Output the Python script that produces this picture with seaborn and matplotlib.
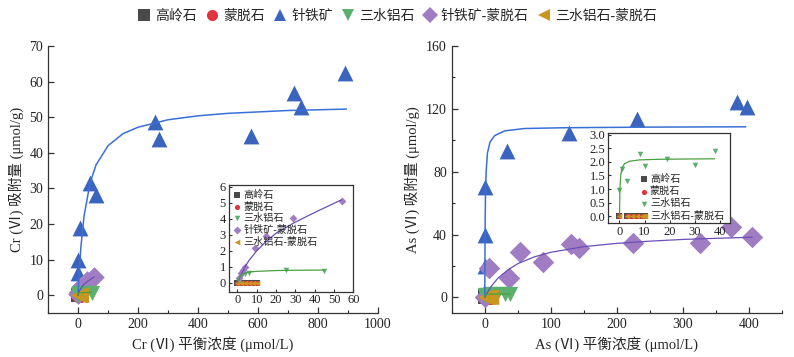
import numpy as np
import pandas as pd
import matplotlib
matplotlib.use('Agg')
from matplotlib import pyplot as plt
from matplotlib.lines import Line2D
from matplotlib.ticker import MultipleLocator, FormatStrFormatter
import seaborn as sns

# ---- data ----
names = ['高岭石', '蒙脱石', '针铁矿', '三水铝石', '针铁矿-蒙脱石', '三水铝石-蒙脱石']

# Cr(VI) isotherms
cr_zero_x = [0, 2, 4, 6, 8, 10]
cr_zero_y = [0, 0, 0, 0, 0, 0]
cr_goe_x = [0, 0, 5, 41, 61, 258, 270, 578, 719, 742, 890]
cr_goe_y = [6.2, 9.9, 19, 31.4, 28.2, 48.6, 43.8, 44.8, 56.8, 52.8, 62.4]
cr_gib_x = [1, 2, 4, 6, 25, 45]
cr_gib_y = [0.05, 0.35, 0.55, 0.6, 0.78, 0.75]
cr_gm_x = [1, 2, 3, 4, 9, 15, 29, 54]
cr_gm_y = [0.3, 0.6, 0.8, 1.0, 2.2, 2.9, 4.05, 5.1]

# Cr(VI) fitted curves
cr_goe_fit_x = [0, 2, 5, 10, 20, 40, 60, 100, 150, 200, 300, 400, 500, 600, 700, 800, 895]
cr_goe_fit_y = [0, 3.5, 8, 14, 22.2, 31.5, 36.6, 42, 45.4, 47.2, 49.3, 50.4, 51.1, 51.5, 51.9, 52.1, 52.3]
cr_gm_fit_x = [0, 1, 2, 4, 6, 10, 15, 20, 30, 40, 54]
cr_gm_fit_y = [0, 0.28, 0.54, 1.0, 1.4, 2.0, 2.6, 3.1, 3.8, 4.4, 5.2]
cr_gib_fit_x = [0, 1, 2, 4, 6, 10, 20, 30, 45]
cr_gib_fit_y = [0, 0.36, 0.5, 0.62, 0.68, 0.72, 0.77, 0.79, 0.8]

# As(VI) isotherms
as_zero_x = [0, 3, 5, 7, 9, 10]
as_zero_y = [0, 0, 0, 0, 0, 0]
as_goe_x = [0, 0, 0, 34, 128, 231, 381, 397]
as_goe_y = [20, 40, 70, 93.4, 104.8, 113.7, 124.4, 121]
as_gib_x = [0, 1, 3, 8, 10, 19, 30, 38]
as_gib_y = [0.95, 1.75, 1.3, 2.3, 1.85, 2.1, 1.9, 2.4]
as_gm_x = [0, 7, 36, 53, 88, 130, 142, 225, 325, 372, 405]
as_gm_y = [0, 18.4, 12.4, 29, 22.5, 33.7, 31.2, 34.4, 34.4, 44.8, 38.4]

as_goe_fit_x = [0, 0.2, 0.5, 1, 2, 4, 8, 15, 30, 60, 120, 250, 395]
as_goe_fit_y = [0, 25, 47, 65, 80, 92, 99, 103, 106, 107.5, 108, 108.4, 108.6]
as_gm_fit_x = [0, 5, 10, 20, 35, 50, 75, 100, 150, 200, 250, 300, 350, 405]
as_gm_fit_y = [0, 3.9, 7.2, 12.3, 17.5, 21.5, 25.8, 28.7, 32.3, 34.4, 35.8, 36.9, 37.6, 38.3]
as_gib_fit_x = [0, 0.2, 0.5, 1, 2, 4, 8, 15, 25, 38]
as_gib_fit_y = [0, 1.06, 1.51, 1.77, 1.93, 2.02, 2.07, 2.09, 2.1, 2.11]

colors = {'高岭石': '#4a4a4a', '蒙脱石': '#e0343f', '针铁矿': '#3a64bd',
          '三水铝石': '#5bb06e', '针铁矿-蒙脱石': '#a07cc2', '三水铝石-蒙脱石': '#c9961e'}
markers = {'高岭石': 's', '蒙脱石': 'o', '针铁矿': '^',
           '三水铝石': 'v', '针铁矿-蒙脱石': 'D', '三水铝石-蒙脱石': '<'}
line_colors = {'针铁矿': '#3a70d6', '针铁矿-蒙脱石': '#6a4fb8', '三水铝石': '#4aa040'}

sns.set_style('ticks')
plt.rcParams['font.family'] = ['Liberation Serif', 'Noto Sans CJK SC']
plt.rcParams['xtick.direction'] = 'in'
plt.rcParams['ytick.direction'] = 'in'
plt.rcParams['axes.unicode_minus'] = False
plt.rcParams['axes.edgecolor'] = '#333333'
plt.rcParams['axes.linewidth'] = 0.9


def pts(ax, x, y, name, s, z, lab=False):
    sns.scatterplot(x=x, y=y, ax=ax, marker=markers[name], color=colors[name],
                    s=s, linewidth=0, zorder=z, legend=False,
                    label=name if lab else None)


def fit(ax, x, y, name, lw=1.1, z=5):
    sns.lineplot(x=x, y=y, ax=ax, color=line_colors[name], lw=lw, zorder=z,
                 sort=False, estimator=None)


fig = plt.figure(figsize=(7.94, 3.57), dpi=100)

# ---- left panel: Cr ----
ax1 = fig.add_axes([0.0605, 0.123, 0.4155, 0.748])
pts(ax1, cr_zero_x, cr_zero_y, '高岭石', 110, 2)
pts(ax1, cr_zero_x, cr_zero_y, '蒙脱石', 110, 2)
pts(ax1, cr_goe_x, cr_goe_y, '针铁矿', 130, 3)
pts(ax1, cr_gib_x, cr_gib_y, '三水铝石', 120, 4)
pts(ax1, cr_gm_x, cr_gm_y, '针铁矿-蒙脱石', 110, 3)
pts(ax1, cr_zero_x, cr_zero_y, '三水铝石-蒙脱石', 120, 4)
fit(ax1, cr_goe_fit_x, cr_goe_fit_y, '针铁矿')
fit(ax1, cr_gm_fit_x, cr_gm_fit_y, '针铁矿-蒙脱石', 0.9)
fit(ax1, cr_gib_fit_x, cr_gib_fit_y, '三水铝石', 0.9)
ax1.set_xlim(-100, 1000)
ax1.set_ylim(-5, 70)
ax1.xaxis.set_major_locator(MultipleLocator(200))
ax1.xaxis.set_minor_locator(MultipleLocator(100))
ax1.yaxis.set_major_locator(MultipleLocator(10))
ax1.set_xlabel('Cr (Ⅵ) 平衡浓度 (μmol/L)', fontsize=10.5, labelpad=4)
ax1.set_ylabel('Cr (Ⅵ) 吸附量 (μmol/g)', fontsize=10.5, labelpad=4)
sns.despine(ax=ax1)

# left inset
in1 = fig.add_axes([0.288, 0.183, 0.157, 0.298])
pts(in1, cr_zero_x, cr_zero_y, '高岭石', 14, 2, True)
pts(in1, cr_zero_x, cr_zero_y, '蒙脱石', 14, 2, True)
pts(in1, cr_gib_x, cr_gib_y, '三水铝石', 16, 3, True)
pts(in1, cr_gm_x, cr_gm_y, '针铁矿-蒙脱石', 16, 3, True)
pts(in1, cr_zero_x, cr_zero_y, '三水铝石-蒙脱石', 16, 4, True)
fit(in1, cr_gm_fit_x, cr_gm_fit_y, '针铁矿-蒙脱石', 0.9)
fit(in1, cr_gib_fit_x, cr_gib_fit_y, '三水铝石', 0.9)
in1.set_xlim(-4.5, 60)
in1.set_ylim(-0.55, 6.1)
in1.xaxis.set_major_locator(MultipleLocator(10))
in1.yaxis.set_major_locator(MultipleLocator(1))
in1.legend(loc='upper left', bbox_to_anchor=(0.0, 1.0), frameon=False, fontsize=7.3,
           handletextpad=0.2, labelspacing=0.15, borderpad=0.25, handlelength=0.8,
           borderaxespad=0.2)

# ---- right panel: As ----
ax2 = fig.add_axes([0.569, 0.123, 0.416, 0.748])
pts(ax2, as_zero_x, as_zero_y, '高岭石', 110, 2)
pts(ax2, as_zero_x, as_zero_y, '蒙脱石', 110, 2)
pts(ax2, as_goe_x, as_goe_y, '针铁矿', 130, 3)
pts(ax2, as_gib_x, as_gib_y, '三水铝石', 120, 4)
pts(ax2, as_gm_x, as_gm_y, '针铁矿-蒙脱石', 120, 3)
pts(ax2, as_zero_x, as_zero_y, '三水铝石-蒙脱石', 120, 4)
fit(ax2, as_goe_fit_x, as_goe_fit_y, '针铁矿')
fit(ax2, as_gm_fit_x, as_gm_fit_y, '针铁矿-蒙脱石', 0.9)
fit(ax2, as_gib_fit_x, as_gib_fit_y, '三水铝石', 0.9)
ax2.set_xlim(-50, 450)
ax2.set_ylim(-10, 160)
ax2.xaxis.set_major_locator(MultipleLocator(100))
ax2.xaxis.set_minor_locator(MultipleLocator(50))
ax2.yaxis.set_major_locator(MultipleLocator(40))
ax2.yaxis.set_minor_locator(MultipleLocator(20))
ax2.set_xlabel('As (Ⅵ) 平衡浓度 (μmol/L)', fontsize=10.5, labelpad=4)
ax2.set_ylabel('As (Ⅵ) 吸附量 (μmol/g)', fontsize=10.5, labelpad=4)
sns.despine(ax=ax2)

# right inset
in2 = fig.add_axes([0.766, 0.375, 0.153, 0.252])
pts(in2, as_zero_x, as_zero_y, '高岭石', 14, 2, True)
pts(in2, as_zero_x, as_zero_y, '蒙脱石', 14, 2, True)
pts(in2, as_gib_x, as_gib_y, '三水铝石', 16, 3, True)
pts(in2, as_zero_x, as_zero_y, '三水铝石-蒙脱石', 16, 4, True)
fit(in2, as_gib_fit_x, as_gib_fit_y, '三水铝石', 0.9)
in2.set_xlim(-4.5, 44)
in2.set_ylim(-0.25, 3.05)
in2.xaxis.set_major_locator(MultipleLocator(10))
in2.yaxis.set_major_locator(MultipleLocator(0.5))
in2.yaxis.set_major_formatter(FormatStrFormatter('%.1f'))
in2.legend(loc='lower left', bbox_to_anchor=(0.26, 0.03), frameon=False, fontsize=7.3,
           handletextpad=0.2, labelspacing=0.2, borderpad=0.0, handlelength=0.8,
           borderaxespad=0.0)

for ax in (ax1, ax2):
    ax.tick_params(labelsize=10, length=4, width=0.9, colors='#333333', labelcolor='#222222')
    ax.tick_params(which='minor', length=2.5, width=0.8)
for ax in (in1, in2):
    ax.tick_params(labelsize=9, length=2.5, width=0.8, pad=2, colors='#333333', labelcolor='#222222')
    ax.set_facecolor('white')

# ---- top legend ----
handles = [Line2D([], [], ls='', marker=markers[n], color=colors[n], markersize=8, mew=0)
           for n in names]
fig.legend(handles, names, loc='upper center', bbox_to_anchor=(0.5, 1.01), ncol=6,
           frameon=False, fontsize=10, handletextpad=0.3, columnspacing=0.6, handlelength=1.0)

fig.savefig('out.png', dpi=100)
